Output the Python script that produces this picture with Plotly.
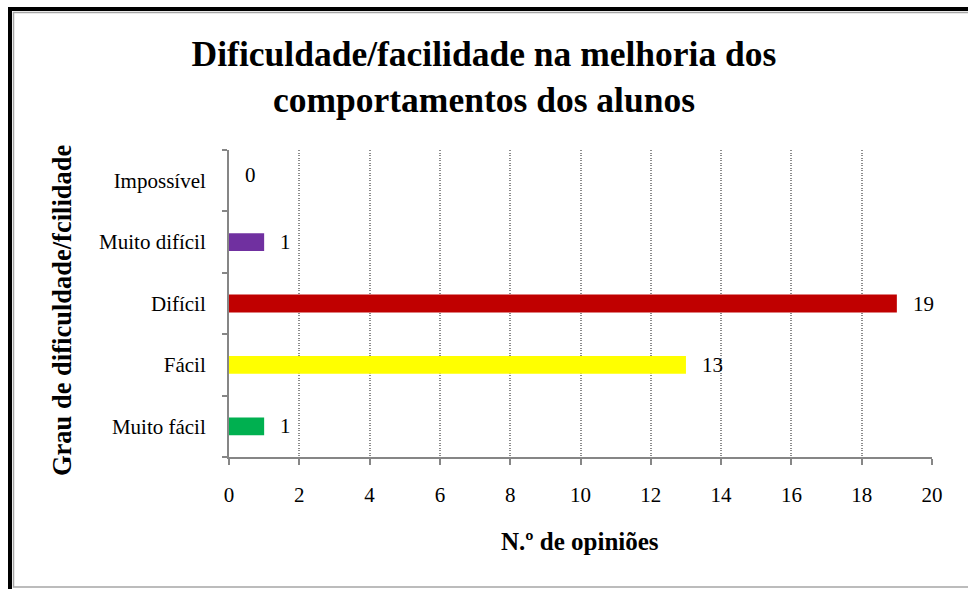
import plotly.graph_objects as go

categories = ["Muito fácil", "Fácil", "Difícil", "Muito difícil", "Impossível"]
values = [1, 13, 19, 1, 0]
colors = ["#00B050", "#FFFF00", "#C00000", "#7030A0", "#7F7F7F"]
x_ticks = [0, 2, 4, 6, 8, 10, 12, 14, 16, 18, 20]

title_text = "Dificuldade/facilidade na melhoria dos<br>comportamentos dos alunos"
x_title = "N.º de opiniões"
y_title = "Grau de dificuldade/fcilidade"

W, H = 968, 589
L, R, T, B = 229, 36, 150, 132
PW, PH = W - L - R, H - T - B

def px_x(px):
    return (px - L) / PW

def px_y(py):
    return (H - B - py) / PH

FONT = "Liberation Serif, Times New Roman, serif"

fig = go.Figure()
fig.add_trace(go.Bar(
    y=categories, x=values, orientation="h",
    marker=dict(color=colors, line=dict(width=0)),
    width=0.29, hoverinfo="x+y",
))

annotations = []
for c, v in zip(categories, values):
    annotations.append(dict(
        x=v, y=c, xref="x", yref="y", text=str(v), showarrow=False,
        xanchor="left", yanchor="middle", xshift=14,
        yshift=6 if v == 0 else 0,
        font=dict(family=FONT, size=21, color="#000000"),
    ))
annotations.append(dict(
    x=px_x(62), y=px_y(310), xref="paper", yref="paper", text=f"<b>{y_title}</b>",
    showarrow=False, textangle=-90, xanchor="center", yanchor="middle",
    font=dict(family=FONT, size=26.5, color="#000000"),
))
annotations.append(dict(
    x=px_x(580), y=px_y(541), xref="paper", yref="paper", text=f"<b>{x_title}</b>",
    showarrow=False, xanchor="center", yanchor="middle",
    font=dict(family=FONT, size=25, color="#000000"),
))

shapes = [
    dict(type="rect", xref="paper", yref="paper",
         x0=px_x(10), x1=px_x(990), y0=px_y(9), y1=px_y(620),
         line=dict(color="#000000", width=4), fillcolor="rgba(0,0,0,0)", layer="above"),
    dict(type="rect", xref="paper", yref="paper",
         x0=px_x(13.5), x1=px_x(990), y0=px_y(12.5), y1=px_y(587),
         line=dict(color="#A6A6A6", width=1.5), fillcolor="rgba(0,0,0,0)", layer="above"),
]

fig.update_layout(
    width=W, height=H,
    margin=dict(l=L, r=R, t=T, b=B, autoexpand=False),
    paper_bgcolor="#FFFFFF", plot_bgcolor="#FFFFFF",
    showlegend=False,
    title=dict(text=f"<b>{title_text}</b>", x=0.5, xanchor="center",
               y=(H - 66) / H, yanchor="middle", yref="container",
               font=dict(family=FONT, size=35.5, color="#000000")),
    annotations=annotations,
    shapes=shapes,
    bargap=0.7,
)

fig.update_xaxes(
    range=[0, 20], tickvals=x_ticks, ticktext=[str(t) for t in x_ticks],
    showgrid=True, gridcolor="#8C8C8C", gridwidth=1.5, griddash="1px,1.5px",
    showline=True, linecolor="#868686", linewidth=2,
    ticks="outside", ticklen=6, tickcolor="#868686", tickwidth=2,
    ticklabelstandoff=12,
    tickfont=dict(family=FONT, size=21, color="#000000"),
    zeroline=False, fixedrange=True,
)
fig.update_yaxes(
    categoryorder="array", categoryarray=categories, range=[-0.5, 4.5],
    showgrid=False, showline=True, linecolor="#868686", linewidth=2,
    ticks="outside", ticklen=5, tickcolor="#868686", tickwidth=2,
    tickson="boundaries", ticklabelstandoff=17,
    tickfont=dict(family=FONT, size=21, color="#000000"),
    zeroline=False, fixedrange=True,
)

fig.write_html("out.html", config={"displayModeBar": False},
               post_script="document.body.style.margin='0px';document.body.style.overflow='hidden';")
